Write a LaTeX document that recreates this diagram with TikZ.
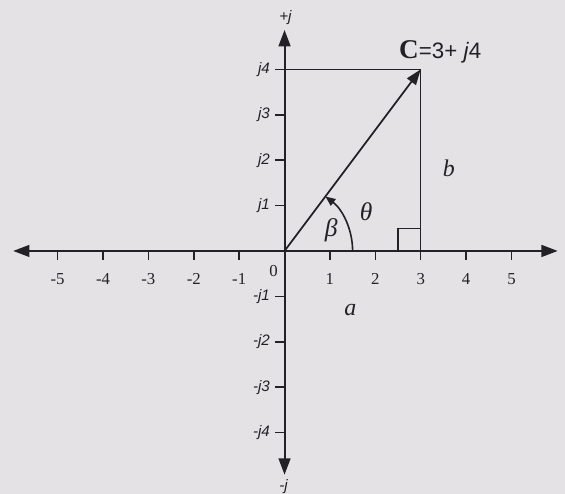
\documentclass[tikz,border=0pt]{standalone}
\usepackage{fontspec}
\setmainfont{Liberation Serif}
\setsansfont{Liberation Sans}
\usepackage{tikz}
\usetikzlibrary{positioning, arrows.meta, calc}
\definecolor{ink}{HTML}{232125}
\definecolor{paper}{HTML}{E4E2E5}
\tikzset{
  axisline/.style  = {{Triangle[length=3.6mm,width=2.6mm]}-{Triangle[length=3.6mm,width=2.6mm]},
                      line width=1.3pt, draw=ink},
  tickmark/.style  = {line width=1pt, draw=ink},
  guide/.style     = {line width=0.8pt, draw=ink},
  vec/.style       = {-{Triangle[length=3.4mm,width=2.4mm]}, line width=1.1pt, draw=ink},
  anglearc/.style  = {-{Triangle[length=2.2mm,width=1.8mm]}, line width=1pt, draw=ink},
  xnum/.style      = {font=\fontsize{10.5}{12}\selectfont, text=ink, inner sep=1pt},
  ynum/.style      = {font=\sffamily\itshape\fontsize{9.5}{11}\selectfont, text=ink,
                      inner sep=1pt, anchor=east},
  sym/.style       = {font=\itshape\fontsize{16}{18}\selectfont, text=ink, inner sep=1pt},
}

\begin{document}
\begin{tikzpicture}[x=1cm, y=1cm]

  % page
  \fill[paper] (-6.27,-5.35) rectangle (6.18,5.53);
  \useasboundingbox (-6.27,-5.35) rectangle (6.18,5.53);

  % axes
  \coordinate (O)  at (0,0);
  \coordinate (xl) at (-5.98,0);
  \coordinate (xr) at (6.02,0);
  \coordinate (yb) at (0,-4.93);
  \coordinate (yt) at (0,4.87);
  \draw[axisline] (xl) -- (xr);
  \draw[axisline] (yb) -- (yt);
  \node[ynum, anchor=center] (pj) at (0.02,5.14) {+j};
  \node[ynum, anchor=center] (mj) at (-0.02,-5.2) {-j};
  \node[xnum] (zero) at (-0.24,-0.45) {0};

  % ticks
  \foreach \x [count=\i] in {-5,-4,-3,-2,-1,1,2,3,4,5} {
    \draw[tickmark] (\x,0) -- (\x,-0.2);
    \node[xnum] (tx\i) at (\x,-0.62) {\x};
  }
  \foreach \y [count=\i] in {1,2,3,4} {
    \draw[tickmark] (0,\y) -- (-0.2,\y);
    \draw[tickmark] (0,-\y) -- (-0.2,-\y);
    \node[ynum] (py\i) at (-0.28,\y) {j\y};
    \node[ynum] (ny\i) at (-0.28,-\y) {-j\y};
  }

  % phasor C = 3 + j4
  \coordinate (C)  at (3,4);
  \coordinate (ya) at (0,4);
  \coordinate (xa) at (3,0);
  \draw[guide] (ya) -- (C) -- (xa);
  \draw[guide] ($(xa)+(-0.5,0)$) |- ($(xa)+(0,0.5)$);
  \draw[vec] (O) -- (C);
  \draw[anglearc] (1.5,0) arc[start angle=0, end angle=53.13, radius=1.5];

  % labels
  \node[sym] (beta)  at (1.03,0.45) {β};
  \node[sym] (theta) at (1.8,0.86) {θ};
  \node[sym, font=\itshape\fontsize{15}{17}\selectfont] (lb) at (3.62,1.83) {b};
  \node[sym, font=\itshape\fontsize{15}{17}\selectfont] (la) at (1.45,-1.3) {a};
  \node[text=ink, inner sep=0pt, anchor=base west] (cval) at (2.52,4.25)
       {\fontsize{17}{19}\selectfont\textbf{C}\sffamily\fontsize{14}{16}\selectfont=3+ \textit{j}4};

\end{tikzpicture}
\end{document}
